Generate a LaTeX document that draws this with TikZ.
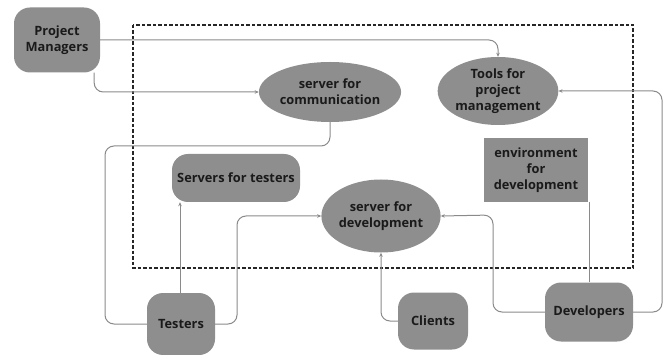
\documentclass[tikz,border=0pt]{standalone}
\usepackage{fontspec}
\setmainfont{Open Sans}
\usetikzlibrary{shapes.geometric,arrows.meta}
\definecolor{boxgray}{HTML}{8E8E8E}
\definecolor{linegray}{HTML}{8A8A8A}
\definecolor{txtgray}{HTML}{1A1A1A}
\begin{document}
\begin{tikzpicture}[x=1pt,y=-1pt,
		every node/.style={font=\fontsize{12.8}{16}\selectfont\bfseries,text=txtgray,align=center,inner sep=0pt},
		people/.style={fill=boxgray,rounded corners=16pt},
		server/.style={ellipse,fill=boxgray},
		conn/.style={draw=linegray,line width=1pt,rounded corners=9pt},
		tip/.style={-{Stealth[length=4pt,width=3.5pt]}}]
		\useasboundingbox (0,0) rectangle (663,355);
		\clip (0,0) rectangle (663,355);
		\draw[line width=1.3pt,color=black!85,dash pattern=on 3.5pt off 2pt] (133,25) rectangle (633,268);
		\node[people,minimum width=86pt,minimum height=65pt] (PM) at (57,40) {Project\\Managers};
		\node[server,minimum width=138pt,minimum height=60pt] (SfC) at (330,92) {server for\\communication};
		\node[server,minimum width=117pt,minimum height=68pt] (Tools) at (498,91) {Tools for\\project\\management};
		\node[fill=boxgray,minimum width=104pt,minimum height=64pt] (Env) at (536,170) {environment\\for\\development};
		\node[people,minimum width=128pt,minimum height=48pt] (SfT) at (236,178) {Servers for testers};
		\node[server,minimum width=118pt,minimum height=73pt] (SfD) at (381,216) {server for\\development};
		\node[people,minimum width=68pt,minimum height=62pt] (Testers) at (181,324) {Testers};
		\node[people,minimum width=70pt,minimum height=57pt] (Clients) at (433,321) {Clients};
		\node[people,minimum width=88pt,minimum height=59pt] (Dev) at (589,312) {Developers};
		\coordinate (DevR) at (662,312);
		% project managers
		\draw[conn,tip] (PM.east) -| (Tools.north);
		\draw[conn,tip] ([xshift=-6pt]PM.south east) |- (SfC.west);
		% testers
		\draw[conn] (Testers.west) -| (105,146) -| (SfC.south);
		\draw[conn,tip] (Testers.north -| 180,0) -- (SfT.south -| 180,0);
		\draw[conn,tip] (Testers.east) -| (237,216) -- (SfD.west);
		% clients
		\draw[conn,tip] (Clients.west) -| (SfD.south);
		% developers
		\draw[conn,tip] (Dev.west) -| (493,215) -- (SfD.east);
		\draw[conn] (Dev.north) -- (Dev.north |- Env.south);
		\draw[conn,tip] (Dev.east) -| (DevR |- Tools.east) -- (Tools.east);
	\end{tikzpicture}
\end{document}
